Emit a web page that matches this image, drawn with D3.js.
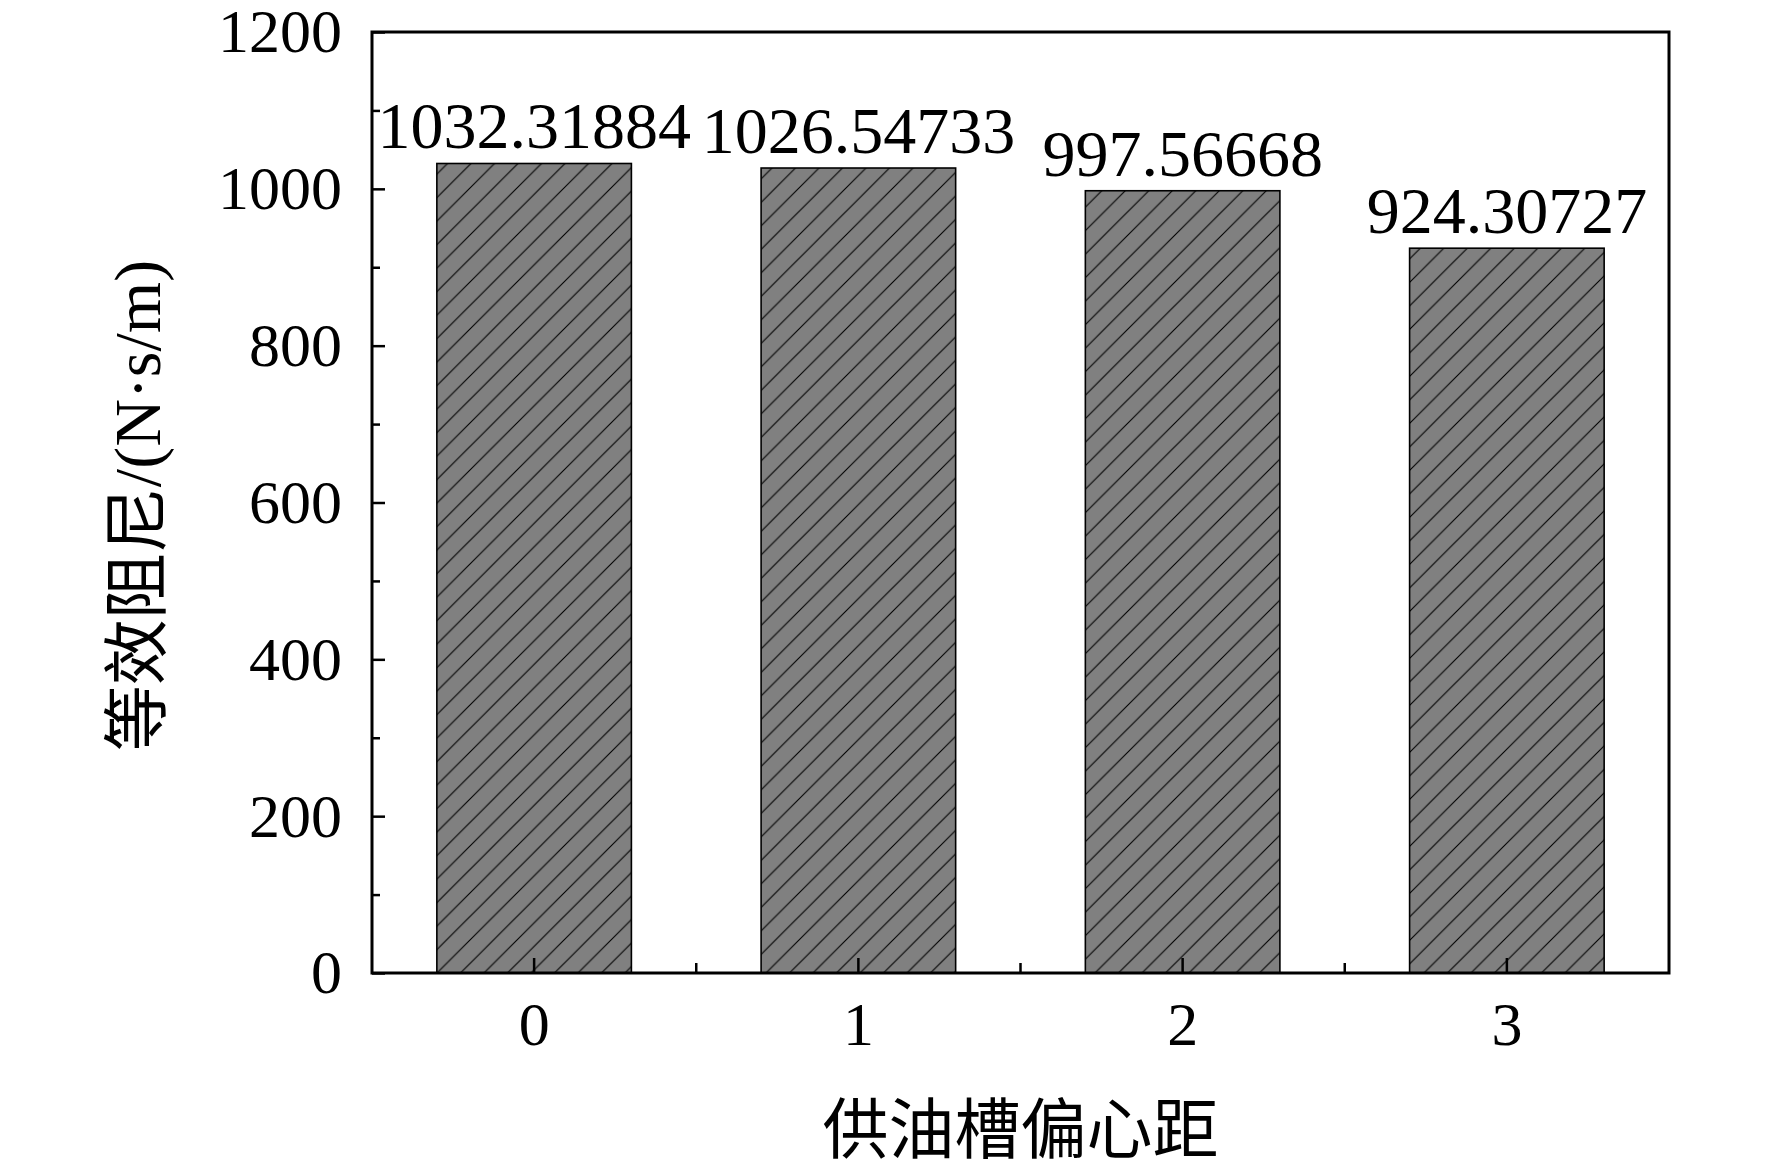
<!DOCTYPE html>
<html>
<head>
<meta charset="utf-8">
<script src="https://cdn.jsdelivr.net/npm/d3@7"></script>
<style>
  html, body { margin: 0; padding: 0; background: #fff; }
  svg { display: block; }
  text { font-family: "Liberation Serif", "Times New Roman", "Noto Sans CJK SC", serif; fill: #000; }
</style>
</head>
<body>
<svg id="chart" width="1772" height="1172"></svg>
<script>
const categories = ["0", "1", "2", "3"];
const values = [1032.31884, 1026.54733, 997.56668, 924.30727];
const valueLabels = ["1032.31884", "1026.54733", "997.56668", "924.30727"];
const yMajorTicks = [0, 200, 400, 600, 800, 1000, 1200];
const yMinorTicks = [100, 300, 500, 700, 900, 1100];
const xTitle = "供油槽偏心距";
const yTitle = "等效阻尼/(N·s/m)";

const W = 1772, H = 1172;
const margin = { left: 372, right: W - 1669, top: 32, bottom: H - 973 };
const svg = d3.select("#chart");
svg.append("rect").attr("width", W).attr("height", H).attr("fill", "#fff");

const x = d3.scaleBand().domain(categories)
  .range([margin.left, W - margin.right])
  .paddingInner(0.4).paddingOuter(0.2);
const y = d3.scaleLinear().domain([0, 1200]).range([H - margin.bottom, margin.top]);

// hatch pattern
const defs = svg.append("defs");
const s = 23.5;
const pat = defs.append("pattern").attr("id", "hatch")
  .attr("patternUnits", "userSpaceOnUse").attr("width", s).attr("height", s);
pat.append("rect").attr("width", s).attr("height", s).attr("fill", "#808080");
pat.append("path")
  .attr("d", `M-3,3 L3,-3 M0,${s} L${s},0 M${s-3},${s+3} L${s+3},${s-3}`)
  .attr("stroke", "#000").attr("stroke-width", 1.1).attr("fill", "none");

// bars
svg.append("g").selectAll("rect").data(categories).join("rect")
  .attr("x", d => x(d))
  .attr("y", (d, i) => y(values[i]))
  .attr("width", x.bandwidth())
  .attr("height", (d, i) => y(0) - y(values[i]))
  .attr("fill", "url(#hatch)")
  .attr("stroke", "#000").attr("stroke-width", 1.6);

// value labels
svg.append("g").selectAll("text").data(categories).join("text")
  .attr("x", d => x(d) + x.bandwidth() / 2)
  .attr("y", (d, i) => y(values[i]) - 15)
  .attr("text-anchor", "middle")
  .attr("font-size", 66)
  .text((d, i) => valueLabels[i]);

// y axis major
const yAxis = svg.append("g").attr("transform", `translate(${margin.left},0)`)
  .call(d3.axisLeft(y).tickValues(yMajorTicks).tickSize(-13).tickPadding(30).tickFormat(d3.format("d")));
yAxis.select(".domain").remove();
yAxis.selectAll(".tick line").attr("stroke", "#000").attr("stroke-width", 2.5);
yAxis.selectAll("text").attr("font-size", 62).attr("font-family", "Liberation Serif, Times New Roman, serif");

const yAxisMinor = svg.append("g").attr("transform", `translate(${margin.left},0)`)
  .call(d3.axisLeft(y).tickValues(yMinorTicks).tickSize(-8).tickFormat(""));
yAxisMinor.select(".domain").remove();
yAxisMinor.selectAll(".tick line").attr("stroke", "#000").attr("stroke-width", 2.5);

// x axis
const xAxis = svg.append("g").attr("transform", `translate(0,${H - margin.bottom})`)
  .call(d3.axisBottom(x).tickSize(-15).tickPadding(28));
xAxis.select(".domain").remove();
xAxis.selectAll(".tick line").attr("stroke", "#000").attr("stroke-width", 2.5);
xAxis.selectAll("text").attr("font-size", 62).attr("font-family", "Liberation Serif, Times New Roman, serif");

// x minor ticks at category boundaries
const boundaries = categories.slice(0, -1).map(c => x(c) + x.bandwidth() + (x.step() - x.bandwidth()) / 2);
svg.append("g").selectAll("line").data(boundaries).join("line")
  .attr("x1", d => d).attr("x2", d => d)
  .attr("y1", y(0)).attr("y2", y(0) - 10)
  .attr("stroke", "#000").attr("stroke-width", 2.5);

// frame
svg.append("rect")
  .attr("x", margin.left).attr("y", margin.top)
  .attr("width", W - margin.left - margin.right)
  .attr("height", H - margin.top - margin.bottom)
  .attr("fill", "none").attr("stroke", "#000").attr("stroke-width", 3);

// titles
svg.append("text")
  .attr("x", (margin.left + W - margin.right) / 2)
  .attr("y", 1130)
  .attr("dominant-baseline", "central")
  .attr("text-anchor", "middle")
  .attr("font-size", 66)
  .text(xTitle);

svg.append("text")
  .attr("transform", `translate(137,${(margin.top + H - margin.bottom) / 2 + 3}) rotate(-90)`)
  .attr("dominant-baseline", "central")
  .attr("text-anchor", "middle")
  .attr("font-size", 66)
  .text(yTitle);
</script>
</body>
</html>
